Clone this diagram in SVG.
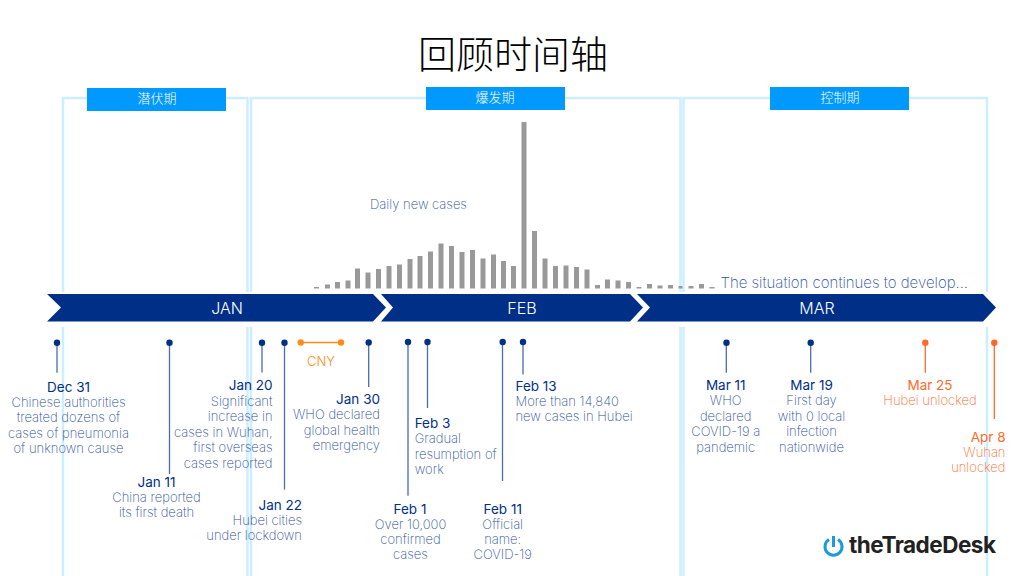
<svg xmlns="http://www.w3.org/2000/svg" width="1024" height="576" viewBox="0 0 1024 576">
<style>
text{font-family:Inter,"Noto Sans","Noto Sans CJK SC",sans-serif}
.fr{fill:none;stroke:#cceeff;stroke-width:2.500}
.bd{fill:#0099ff}
.bt{font-family:"Noto Sans CJK SC",sans-serif;font-size:13px;font-weight:300;fill:#fff;text-anchor:middle}
.bar{fill:#999}
.band{fill:#002f87}
.bl{font-size:16px;fill:#fff;text-anchor:middle;font-weight:300}
.s{stroke:#4a6cb0;stroke-width:1.300;fill:none}
.so{stroke:#ff6a2a;stroke-width:1.300;fill:none}
.d{fill:#002f87}
.do{fill:#ff6a2a}
.dc{fill:#ff8c1a}
.t{font-size:13px;font-weight:200;fill:#2c4f9e}
.h{font-size:13.500px;font-weight:400;fill:#002f87}
.to{font-size:13px;font-weight:200;fill:#ff6a2a}
.ho{font-size:13.500px;font-weight:400;fill:#ff6a2a}
.m{text-anchor:middle}
.e{text-anchor:end}
</style>
<rect width="1024" height="576" fill="#fff"/>
<text x="513" y="68" font-size="38" font-weight="200" text-anchor="middle" fill="#000" style="font-family:'Noto Sans CJK SC',sans-serif">回顾时间轴</text>
<g id="frames">
<path class="fr" d="M63 292V98H247.500V292M63 327V576M247.500 327V576"/>
<path class="fr" d="M251 292V98H680.500V292M251 327V576M680.500 327V576"/>
<path class="fr" d="M683.500 292V98H987V292M683.500 327V576M987 327V576"/>
</g>
<g id="badge-1"><rect class="bd" x="87" y="88" width="139" height="23"/><text class="bt" x="157" y="103">潜伏期</text></g>
<g id="badge-2"><rect class="bd" x="426" y="87" width="139" height="23"/><text class="bt" x="495" y="102">爆发期</text></g>
<g id="badge-3"><rect class="bd" x="770" y="87" width="139" height="23"/><text class="bt" x="840" y="102">控制期</text></g>
<g id="chart">
<rect class="bar" x="314" y="287" width="5" height="1.500"/><rect class="bar" x="325" y="284.500" width="5" height="4"/><rect class="bar" x="335" y="282" width="5" height="6.500"/><rect class="bar" x="345.500" y="280.500" width="5" height="8"/><rect class="bar" x="355" y="268.500" width="5" height="20"/><rect class="bar" x="365.500" y="272.500" width="5" height="16"/><rect class="bar" x="376" y="269" width="5" height="19.500"/><rect class="bar" x="386.500" y="266" width="5" height="22.500"/><rect class="bar" x="397" y="264.500" width="5" height="24"/><rect class="bar" x="407.500" y="259" width="5" height="29.500"/><rect class="bar" x="417.500" y="256" width="5" height="32.500"/><rect class="bar" x="428" y="251.500" width="5" height="37"/><rect class="bar" x="438.500" y="243.500" width="5" height="45"/><rect class="bar" x="449" y="246" width="5" height="42.500"/><rect class="bar" x="459.500" y="252" width="5" height="36.500"/><rect class="bar" x="470" y="250" width="5" height="38.500"/><rect class="bar" x="480.500" y="258.500" width="5" height="30"/><rect class="bar" x="491" y="254.500" width="5" height="34"/><rect class="bar" x="501" y="261" width="5" height="27.500"/><rect class="bar" x="511" y="266" width="5" height="22.500"/><rect class="bar" x="521.500" y="122" width="5" height="166.500"/><rect class="bar" x="532" y="231" width="5" height="57.500"/><rect class="bar" x="542.500" y="258.500" width="5" height="30"/><rect class="bar" x="553" y="266" width="5" height="22.500"/><rect class="bar" x="563.500" y="265.500" width="5" height="23"/><rect class="bar" x="574" y="267" width="5" height="21.500"/><rect class="bar" x="584.500" y="269.500" width="5" height="19"/><rect class="bar" x="595" y="285" width="5" height="3.500"/><rect class="bar" x="605" y="279.500" width="5" height="9"/><rect class="bar" x="615.500" y="280.500" width="5" height="8"/><rect class="bar" x="626" y="282" width="5" height="6.500"/><rect class="bar" x="636.500" y="287" width="5" height="1.500"/><rect class="bar" x="647" y="284" width="5" height="4.500"/><rect class="bar" x="657.500" y="285.500" width="5" height="3"/><rect class="bar" x="668" y="285" width="5" height="3.500"/><rect class="bar" x="678.500" y="286" width="4" height="2.500"/><rect class="bar" x="688.500" y="286" width="5" height="2.500"/><rect class="bar" x="699" y="284" width="5" height="4.500"/><rect class="bar" x="709.500" y="287" width="5" height="1.500"/>
<text x="418.500" y="209" font-size="13" font-weight="200" text-anchor="middle" fill="#2c4f9e">Daily new cases</text>
</g>
<text id="note" x="720.500" y="288" font-size="15" font-weight="200" fill="#2c4f9e">The situation continues to develop...</text>
<g id="band-jan"><path class="band" d="M47 294H373L386 307.500L373 321.500H47L61 307.500Z"/><text class="bl" x="227" y="313.500">JAN</text></g>
<g id="band-feb"><path class="band" d="M381 294H630L643 307.500L630 321.500H381L393 307.500Z"/><text class="bl" x="522" y="313.500">FEB</text></g>
<g id="band-mar"><path class="band" d="M637 294H983L996 307.500L983 321.500H637L650 307.500Z"/><text class="bl" x="817" y="313.500">MAR</text></g>
<g id="connectors">
<path class="s" d="M57 343V372.700M169.500 343V474M262 343V372.500M284.500 343V489.500M368.700 343V387M408 343V495.700M427.500 343V408M502.500 343V481M523 343V374.500M726.300 343V372.700M810.700 343V372.700"/>
<path class="so" d="M925.300 343V372.700M994.300 343V419"/>
<path d="M300.700 342.500H341" stroke="#ff8c1a" stroke-width="1.300"/>
</g>
<g id="dec31"><circle class="d" cx="57" cy="342.700" r="3.200"/><text class="h m" x="68.500" y="392">Dec 31</text><text class="t m" x="68.500" y="407">Chinese authorities</text><text class="t m" x="68.500" y="422">treated dozens of</text><text class="t m" x="68.500" y="438">cases of pneumonia</text><text class="t m" x="68.500" y="453">of unknown cause</text></g>
<g id="jan11"><circle class="d" cx="169.500" cy="342.700" r="3.200"/><text class="h m" x="156.500" y="487">Jan 11</text><text class="t m" x="156.500" y="502">China reported</text><text class="t m" x="156.500" y="517">its first death</text></g>
<g id="jan20"><circle class="d" cx="262" cy="342.700" r="3.200"/><text class="h e" x="272.500" y="390">Jan 20</text><text class="t e" x="272.500" y="405.500">Significant</text><text class="t e" x="272.500" y="421">increase in</text><text class="t e" x="272.500" y="436.500">cases in Wuhan,</text><text class="t e" x="272.500" y="452">first overseas</text><text class="t e" x="272.500" y="467.500">cases reported</text></g>
<g id="jan22"><circle class="d" cx="284.500" cy="342.700" r="3.200"/><text class="h e" x="302" y="510">Jan 22</text><text class="t e" x="302" y="525">Hubei cities</text><text class="t e" x="302" y="540">under lockdown</text></g>
<g id="cny"><circle class="dc" cx="300.700" cy="342.500" r="3.200"/><circle class="dc" cx="341" cy="342.500" r="3.200"/><text x="321" y="366" font-size="13" font-weight="300" text-anchor="middle" fill="#ff8c1a">CNY</text></g>
<g id="jan30"><circle class="d" cx="368.700" cy="342.500" r="3.200"/><text class="h e" x="380" y="404">Jan 30</text><text class="t e" x="380" y="419">WHO declared</text><text class="t e" x="380" y="435">global health</text><text class="t e" x="380" y="450">emergency</text></g>
<g id="feb1"><circle class="d" cx="408" cy="342" r="3.200"/><text class="h m" x="410" y="513.500">Feb 1</text><text class="t m" x="410.500" y="528.500">Over 10,000</text><text class="t m" x="410.500" y="544">confirmed</text><text class="t m" x="410.500" y="559">cases</text></g>
<g id="feb3"><circle class="d" cx="427.500" cy="342" r="3.200"/><text class="h" x="414.700" y="428">Feb 3</text><text class="t" x="414.700" y="443">Gradual</text><text class="t" x="414.700" y="458.500">resumption of</text><text class="t" x="414.700" y="474">work</text></g>
<g id="feb11"><circle class="d" cx="502.700" cy="342" r="3.200"/><text class="h m" x="502.700" y="513.500">Feb 11</text><text class="t m" x="502.700" y="528.500">Official</text><text class="t m" x="502.700" y="544">name:</text><text class="t m" x="502.700" y="559">COVID-19</text></g>
<g id="feb13"><circle class="d" cx="523" cy="342" r="3.200"/><text class="h" x="515.500" y="391">Feb 13</text><text class="t" x="515.500" y="406">More than 14,840</text><text class="t" x="515.500" y="421">new cases in Hubei</text></g>
<g id="mar11"><circle class="d" cx="726.500" cy="342.700" r="3.200"/><text class="h m" x="725.700" y="390">Mar 11</text><text class="t m" x="725.700" y="405">WHO</text><text class="t m" x="725.700" y="421">declared</text><text class="t m" x="725.700" y="436">COVID-19 a</text><text class="t m" x="725.700" y="451.500">pandemic</text></g>
<g id="mar19"><circle class="d" cx="810.700" cy="342.700" r="3.200"/><text class="h m" x="811.500" y="390">Mar 19</text><text class="t m" x="811.500" y="405">First day</text><text class="t m" x="811.500" y="421">with 0 local</text><text class="t m" x="811.500" y="436">infection</text><text class="t m" x="811.500" y="451.500">nationwide</text></g>
<g id="mar25"><circle class="do" cx="925.300" cy="342.700" r="3.200"/><text class="ho m" x="930" y="390">Mar 25</text><text class="to m" x="930" y="405">Hubei unlocked</text></g>
<g id="apr8"><circle class="do" cx="994.300" cy="342.700" r="3.200"/><text class="ho e" x="1005.500" y="442">Apr 8</text><text class="to e" x="1005.500" y="456.500">Wuhan</text><text class="to e" x="1005.500" y="471.500">unlocked</text></g>
<g id="logo">
<path d="M829 539.500A8.500 8.500 0 1 0 838 539.500" fill="none" stroke="#1a9be0" stroke-width="3"/>
<path d="M833.500 536V547" stroke="#1a9be0" stroke-width="3"/>
<text x="849" y="553" font-size="22.500" font-weight="700" fill="#222" letter-spacing="-0.500">theTradeDesk</text>
</g>
</svg>
